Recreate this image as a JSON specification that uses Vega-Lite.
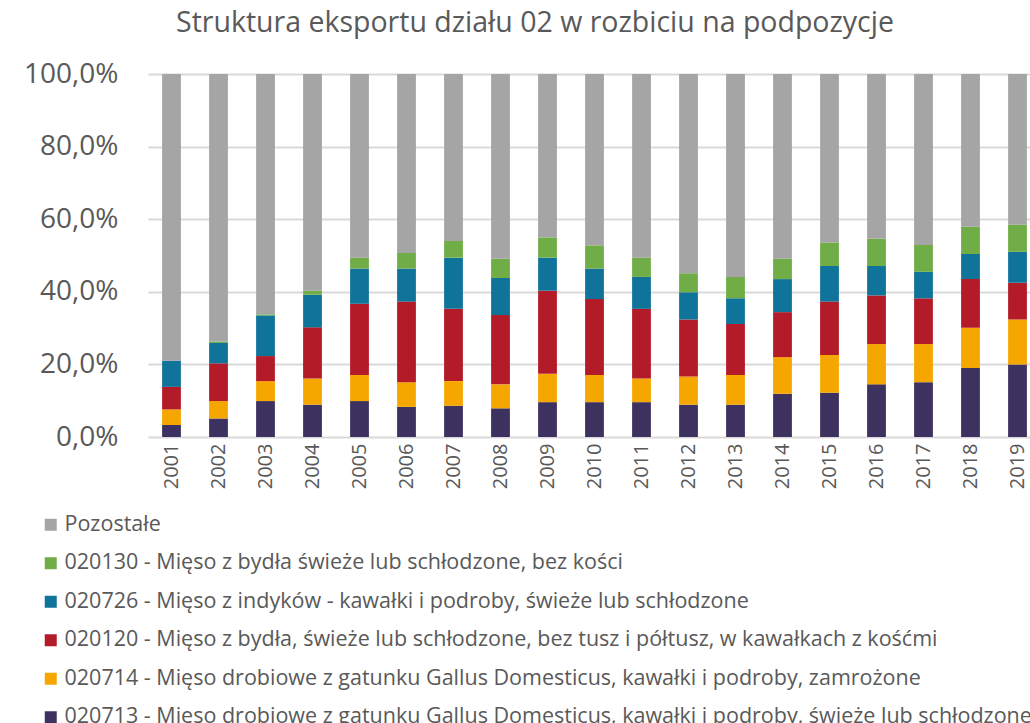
{
  "$schema": "https://vega.github.io/schema/vega-lite/v6.json",
  "autosize": "none",
  "padding": {"left": 148, "top": 74, "right": 0, "bottom": 286},
  "width": 882,
  "height": 363,
  "background": "#ffffff",
  "title": {
    "text": "Struktura eksportu działu 02 w rozbiciu na podpozycje",
    "anchor": "middle",
    "dx": -54,
    "offset": 0,
    "baseline": "alphabetic",
    "font": "Open Sans",
    "fontSize": 28.5,
    "fontWeight": "normal",
    "color": "#595959"
  },
  "datasets": {
    "shares": [
      {"year": "2001", "020713": 3.3, "020714": 4.3, "020120": 6.2, "020726": 7.2, "020130": 0.0, "Pozostałe": 79.0},
      {"year": "2002", "020713": 5.1, "020714": 4.8, "020120": 10.4, "020726": 5.6, "020130": 0.4, "Pozostałe": 73.7},
      {"year": "2003", "020713": 9.9, "020714": 5.5, "020120": 6.9, "020726": 11.2, "020130": 0.3, "Pozostałe": 66.2},
      {"year": "2004", "020713": 8.9, "020714": 7.2, "020120": 14.1, "020726": 9.0, "020130": 1.1, "Pozostałe": 59.7},
      {"year": "2005", "020713": 9.9, "020714": 7.2, "020120": 19.6, "020726": 9.7, "020130": 3.0, "Pozostałe": 50.6},
      {"year": "2006", "020713": 8.3, "020714": 6.8, "020120": 22.2, "020726": 9.1, "020130": 4.3, "Pozostałe": 49.3},
      {"year": "2007", "020713": 8.6, "020714": 6.8, "020120": 19.9, "020726": 14.1, "020130": 4.6, "Pozostałe": 46.0},
      {"year": "2008", "020713": 7.9, "020714": 6.6, "020120": 19.1, "020726": 10.2, "020130": 5.3, "Pozostałe": 50.9},
      {"year": "2009", "020713": 9.6, "020714": 7.8, "020120": 22.9, "020726": 9.1, "020130": 5.6, "Pozostałe": 45.0},
      {"year": "2010", "020713": 9.6, "020714": 7.5, "020120": 20.9, "020726": 8.4, "020130": 6.4, "Pozostałe": 47.2},
      {"year": "2011", "020713": 9.6, "020714": 6.5, "020120": 19.2, "020726": 8.8, "020130": 5.3, "Pozostałe": 50.6},
      {"year": "2012", "020713": 8.9, "020714": 7.8, "020120": 15.7, "020726": 7.5, "020130": 5.2, "Pozostałe": 54.9},
      {"year": "2013", "020713": 8.9, "020714": 8.2, "020120": 14.0, "020726": 7.1, "020130": 5.9, "Pozostałe": 55.9},
      {"year": "2014", "020713": 11.9, "020714": 10.1, "020120": 12.4, "020726": 9.1, "020130": 5.6, "Pozostałe": 50.9},
      {"year": "2015", "020713": 12.2, "020714": 10.4, "020120": 14.7, "020726": 9.8, "020130": 6.5, "Pozostałe": 46.4},
      {"year": "2016", "020713": 14.5, "020714": 11.1, "020120": 13.4, "020726": 8.1, "020130": 7.5, "Pozostałe": 45.4},
      {"year": "2017", "020713": 15.1, "020714": 10.5, "020120": 12.6, "020726": 7.3, "020130": 7.4, "Pozostałe": 47.1},
      {"year": "2018", "020713": 19.0, "020714": 11.1, "020120": 13.4, "020726": 6.9, "020130": 7.5, "Pozostałe": 42.1},
      {"year": "2019", "020713": 20.0, "020714": 12.4, "020120": 10.1, "020726": 8.5, "020130": 7.5, "Pozostałe": 41.5}
    ],
    "names": [
      {"code": "Pozostałe", "label": "Pozostałe"},
      {"code": "020130", "label": "020130 - Mięso z bydła świeże lub schłodzone, bez kości"},
      {"code": "020726", "label": "020726 - Mięso z indyków - kawałki i podroby, świeże lub schłodzone"},
      {"code": "020120", "label": "020120 - Mięso z bydła, świeże lub schłodzone, bez tusz i półtusz, w kawałkach z kośćmi"},
      {"code": "020714", "label": "020714 - Mięso drobiowe z gatunku Gallus Domesticus, kawałki i podroby, zamrożone"},
      {"code": "020713", "label": "020713 - Mięso drobiowe z gatunku Gallus Domesticus, kawałki i podroby, świeże lub schłodzone"}
    ]
  },
  "data": {"name": "shares"},
  "transform": [
    {"fold": ["020713", "020714", "020120", "020726", "020130", "Pozostałe"], "as": ["code", "value"]},
    {"lookup": "code", "from": {"data": {"name": "names"}, "key": "code", "fields": ["label"]}},
    {"calculate": "indexof(['020713','020714','020120','020726','020130','Pozostałe'], datum.code)", "as": "k"}
  ],
  "mark": {"type": "bar"},
  "encoding": {
    "x": {
      "field": "year",
      "type": "ordinal",
      "title": null,
      "scale": {"paddingInner": 0.6, "paddingOuter": 0.183, "align": 0.82},
      "axis": {
        "labelAngle": -90,
        "labelFont": "Open Sans",
        "labelFontSize": 20,
        "labelColor": "#595959",
        "labelPadding": 6,
        "ticks": false,
        "domain": false,
        "grid": false
      }
    },
    "y": {
      "field": "value",
      "type": "quantitative",
      "stack": "normalize",
      "title": null,
      "scale": {"domain": [0, 1], "nice": false},
      "axis": {
        "values": [0, 0.2, 0.4, 0.6, 0.8, 1],
        "labelExpr": "replace(format(datum.value * 100, '.1f'), '.', ',') + '%'",
        "labelFont": "Open Sans",
        "labelFontSize": 28,
        "labelColor": "#595959",
        "labelPadding": 30,
        "ticks": false,
        "domain": false,
        "grid": true,
        "gridColor": "#D9D9D9",
        "gridWidth": 2
      }
    },
    "color": {
      "field": "label",
      "type": "nominal",
      "scale": {
        "domain": [
          "Pozostałe",
          "020130 - Mięso z bydła świeże lub schłodzone, bez kości",
          "020726 - Mięso z indyków - kawałki i podroby, świeże lub schłodzone",
          "020120 - Mięso z bydła, świeże lub schłodzone, bez tusz i półtusz, w kawałkach z kośćmi",
          "020714 - Mięso drobiowe z gatunku Gallus Domesticus, kawałki i podroby, zamrożone",
          "020713 - Mięso drobiowe z gatunku Gallus Domesticus, kawałki i podroby, świeże lub schłodzone"
        ],
        "range": ["#A5A5A5", "#70AD47", "#10739A", "#B41B29", "#F5A700", "#3D3160"]
      },
      "legend": {
        "title": null,
        "orient": "none",
        "legendX": -108,
        "legendY": 440,
        "direction": "vertical",
        "symbolType": "square",
        "symbolSize": 144,
        "symbolStrokeWidth": 0,
        "labelFont": "Open Sans",
        "labelFontSize": 21.5,
        "labelColor": "#595959",
        "labelLimit": 2000,
        "labelOffset": 3,
        "rowPadding": 15.5
      }
    },
    "order": {"field": "k", "type": "quantitative", "sort": "ascending"}
  },
  "config": {
    "view": {"stroke": null}
  }
}
